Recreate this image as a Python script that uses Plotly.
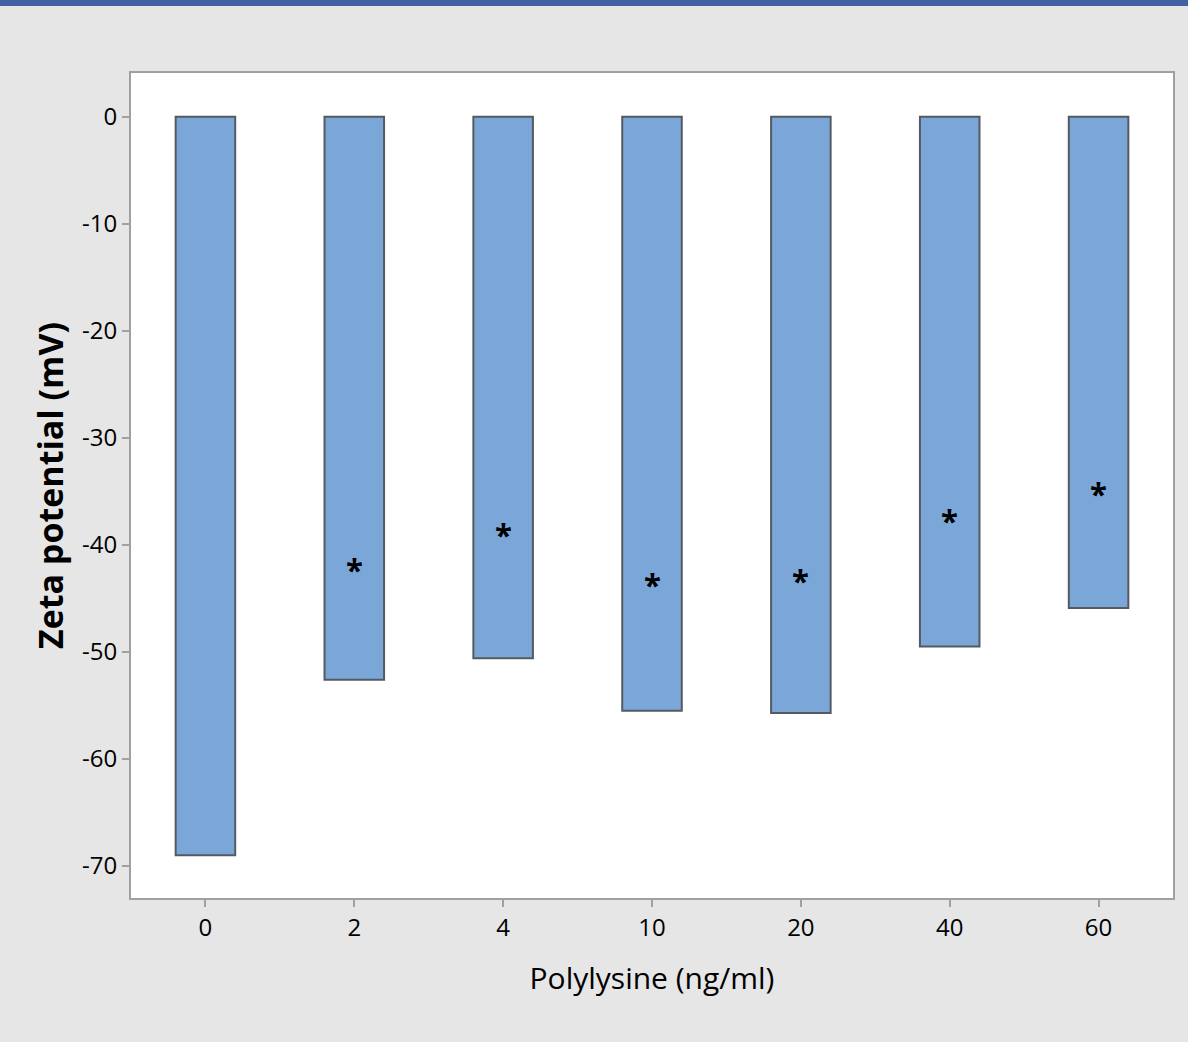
import plotly.graph_objects as go

categories = ["0", "2", "4", "10", "20", "40", "60"]
zeta_mv = [-69.0, -52.6, -50.6, -55.5, -55.7, -49.5, -45.9]
star_cats = ["2", "4", "10", "20", "40", "60"]
star_y = [-42.1, -38.8, -43.5, -43.1, -37.5, -35.0]
y_ticks = [0, -10, -20, -30, -40, -50, -60, -70]

FONT = "Open Sans, sans-serif"

fig = go.Figure()
fig.add_trace(go.Bar(
    x=categories, y=zeta_mv, width=0.4,
    marker=dict(color="#7ba7d8", line=dict(color="#555a60", width=2)),
    showlegend=False,
))

for c, v in zip(star_cats, star_y):
    fig.add_annotation(x=categories.index(c), y=v, text="<b>*</b>", showarrow=False,
                       font=dict(size=31, color="black", family=FONT),
                       yanchor="middle", yshift=-2)

W, H = 1188, 1042
ml, mr, mt, mb = 131, 15, 73, 144
pw, ph = W - ml - mr, H - mt - mb

# top dark band
fig.add_shape(type="rect", xref="paper", yref="paper",
              x0=-ml / pw, x1=1 + mr / pw,
              y0=1 + (mt - 6) / ph, y1=1 + mt / ph,
              fillcolor="#4461a3", line=dict(width=0), layer="above")

axis_common = dict(showline=True, linecolor="#a0a0a0", linewidth=2, mirror=True,
                   ticks="outside", tickcolor="#a0a0a0", ticklen=7, tickwidth=2,
                   showgrid=False, zeroline=False,
                   tickfont=dict(family=FONT, size=24, color="black"))

fig.update_layout(
    width=W, height=H,
    margin=dict(l=ml, r=mr, t=mt, b=mb),
    paper_bgcolor="#e6e6e6", plot_bgcolor="white",
    xaxis=dict(**axis_common, range=[-0.5, 6.5],
               title=dict(text="Polylysine (ng/ml)", standoff=26,
                          font=dict(family=FONT, size=30, color="black"))),
    yaxis=dict(**axis_common, range=[-73.0, 4.1], tickvals=y_ticks,
               ticktext=[str(t) for t in y_ticks],
               title=dict(text="<b>Zeta potential (mV)</b>", standoff=8,
                          font=dict(family=FONT, size=34, color="black"))),
)

fig.write_html("out.html", config={"displayModeBar": False},
               post_script="document.body.style.margin='0';"
                           "document.body.style.background='#e6e6e6';")
